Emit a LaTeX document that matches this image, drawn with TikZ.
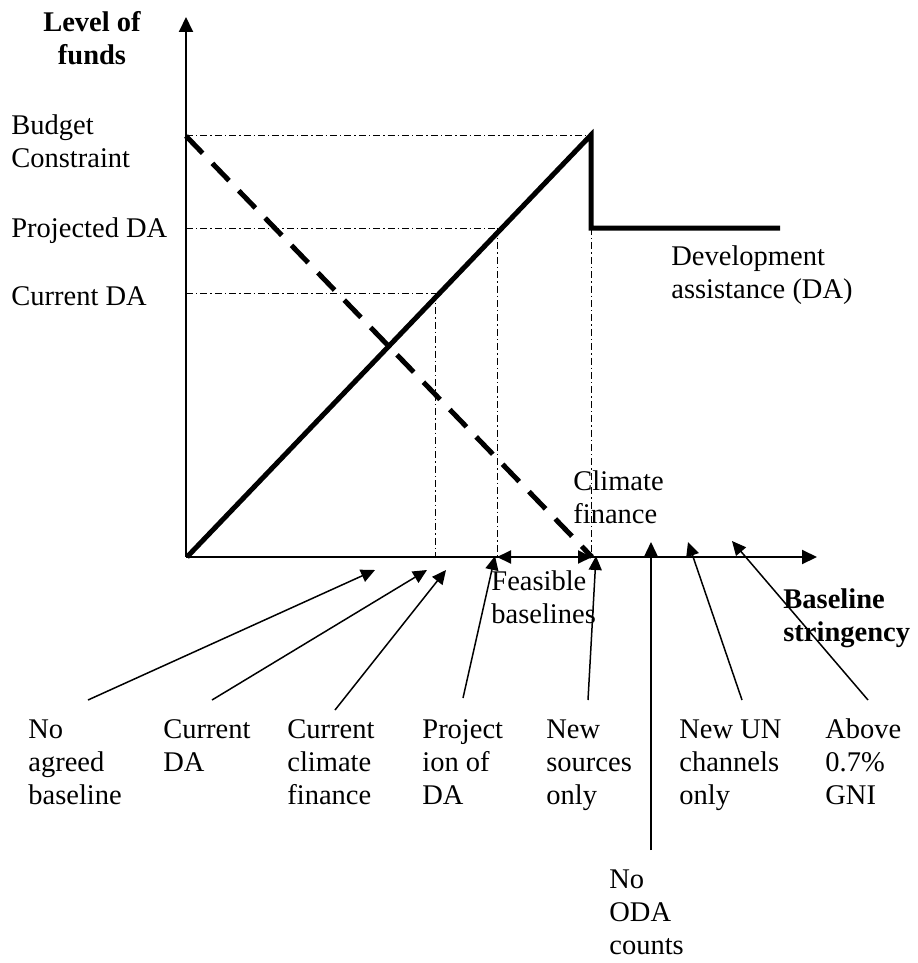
\documentclass[tikz,border=0pt]{standalone}
\usepackage{fontspec}
\setmainfont{Liberation Serif}
\usetikzlibrary{arrows.meta}
\tikzset{
  lbl/.style={inner sep=0pt, anchor=base west, align=left, font=\fontsize{14.25}{16.5}\selectfont},
  blbl/.style={inner sep=0pt, anchor=base, align=center, font=\fontsize{14.25}{16.5}\selectfont\bfseries},
  axisline/.style={line width=1pt, -{Triangle[length=7.5pt,width=7pt]}},
  curveline/.style={line width=2.5pt, line join=miter},
  dashline/.style={line width=2.5pt, dash pattern=on 12pt off 7pt},
  guide/.style={line width=0.5pt, dash pattern=on 3.5pt off 1.5pt on 0.7pt off 1.5pt},
  pointer/.style={line width=0.75pt, -{Triangle[length=7pt,width=6.5pt]}},
  feasarrow/.style={line width=1pt, {Triangle[length=7pt,width=6.5pt]}-{Triangle[length=7pt,width=6.5pt]}},
}
\begin{document}
\begin{tikzpicture}[x=0.5pt,y=-0.5pt]
\useasboundingbox (0,0) rectangle (917,963);
% key coordinates
\coordinate (O) at (186,557);
\coordinate (ytop) at (186,17);
\coordinate (xend) at (817,557);
\coordinate (peak) at (591,135);
\coordinate (drop) at (591,228);
\coordinate (daend) at (780,228);
\coordinate (bc) at (186,135);
\coordinate (pda) at (186,228);
\coordinate (cda) at (186,293);
\coordinate (pdax) at (497,228);
\coordinate (cdax) at (435,293);
\coordinate (pdab) at (497,557);
\coordinate (cdab) at (435,557);
\coordinate (peakb) at (591,557);
\coordinate (dstart) at (186,136);
\coordinate (dend) at (592,557);
% guides
\draw[guide] (bc) -- (peak);
\draw[guide] (pda) -- (pdax);
\draw[guide] (pdax) -- (pdab);
\draw[guide] (cda) -- (cdax);
\draw[guide] (cdax) -- (cdab);
\draw[guide] (drop) -- (peakb);
% axes
\draw[axisline] (O) -- (ytop);
\draw[axisline] (O) -- (xend);
% curves
\draw[curveline] (187,557) -- (peak) -- (drop) -- (daend);
\draw[dashline] (dstart) -- (dend);
\draw[feasarrow] (pdab) -- (dend);
% labels (anchor = baseline of the last line)
\node[blbl] (lvl) at (92,65) {Level of\\funds};
\node[lbl] (bcl) at (11,167) {Budget\\Constraint};
\node[lbl] (pdal) at (11,237) {Projected DA};
\node[lbl] (cdal) at (11,305) {Current DA};
\node[lbl] (dal) at (671,298) {Development\\assistance (DA)};
\node[lbl] (cfl) at (573,523) {Climate\\finance};
\node[lbl] (fbl) at (491,623) {Feasible\\baselines};
\node[lbl, font=\fontsize{14.25}{16.5}\selectfont\bfseries] (bsl) at (783,641) {Baseline\\stringency};
\node[lbl] (l1) at (28,804) {No\\agreed\\baseline};
\node[lbl] (l2) at (163,771) {Current\\DA};
\node[lbl] (l3) at (287,804) {Current\\climate\\finance};
\node[lbl] (l4) at (422,804) {Project\\ion of\\DA};
\node[lbl] (l5) at (546,804) {New\\sources\\only};
\node[lbl] (l6) at (679,804) {New UN\\channels\\only};
\node[lbl] (l7) at (825,804) {Above\\0.7\%\\GNI};
\node[lbl] (l8) at (609,954) {No\\ODA\\counts};
% pointer ends
\coordinate (s1) at (88,700);   \coordinate (t1) at (375,570);
\coordinate (s2) at (212,700);  \coordinate (t2) at (427,570);
\coordinate (s3) at (335,710);  \coordinate (t3) at (446,570);
\coordinate (s4) at (463,698);  \coordinate (t4) at (495,556);
\coordinate (s5) at (588,700);  \coordinate (t5) at (596,556);
\coordinate (s6) at (651,850);  \coordinate (t6) at (651,542);
\coordinate (s7) at (742,700);  \coordinate (t7) at (688,542);
\coordinate (s8) at (868,700);  \coordinate (t8) at (732,541);
\foreach \i in {1,...,8} {\draw[pointer] (s\i) -- (t\i);}
\end{tikzpicture}
\end{document}
